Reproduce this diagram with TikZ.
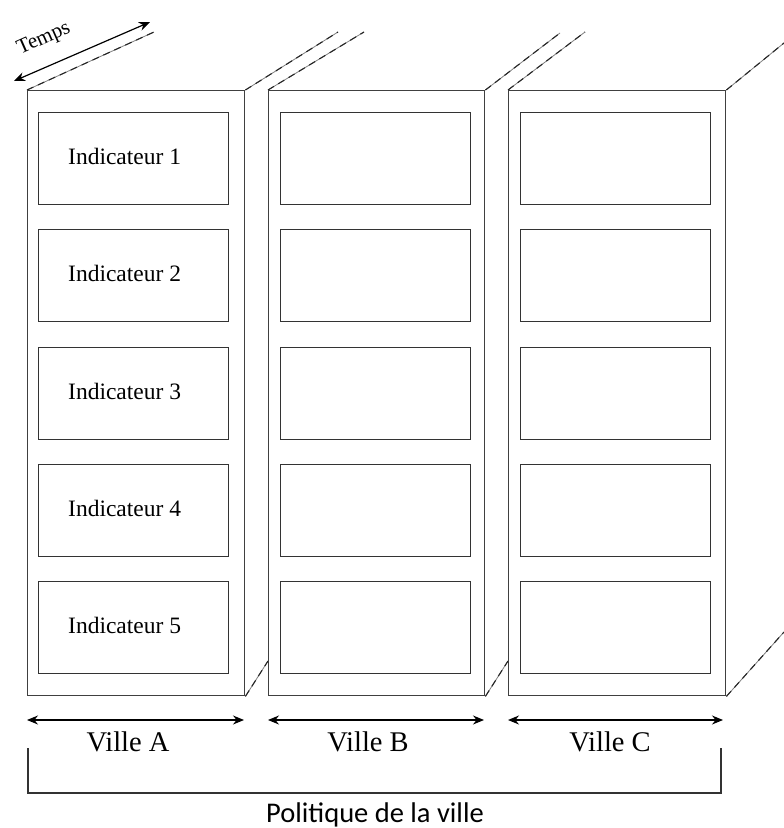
\documentclass[tikz,border=0pt]{standalone}
\usepackage{fontspec}
\setmainfont{Liberation Serif}
\newfontfamily\polfont{Carlito}
\usetikzlibrary{arrows.meta}
\begin{document}
\begin{tikzpicture}[x=1pt,y=-1pt,
  colbox/.style={draw=black!75, line width=1.4pt, inner sep=0pt, anchor=north west},
  indbox/.style={draw=black!80, line width=1.3pt, inner sep=0pt, anchor=north west},
  depthgray/.style={draw=black!50, line width=0.8pt},
  depthdash/.style={draw=black!85, line width=1.1pt, dash pattern=on 7pt off 5pt},
  dimarrow/.style={draw=black, line width=1.2pt, {Stealth[length=11pt,width=9pt]}-{Stealth[length=11pt,width=9pt]}},
  indlabel/.style={font=\fontsize{23.5}{26}\selectfont, anchor=west, inner sep=0pt},
  villelabel/.style={font=\fontsize{28.5}{32}\selectfont, anchor=base, inner sep=0pt},
  brackline/.style={draw=black!80, line width=1.2pt}
]
\useasboundingbox (0,0) rectangle (784,828);

% columns
\foreach \n/\xl/\xr in {A/27/244, B/268/484, C/508/725}{
  \node[colbox, minimum width={(\xr-\xl)*1pt}, minimum height=605pt] (col\n) at (\xl,90) {};
}
% indicator boxes
\foreach \n/\xl in {A/38, B/280, C/520}{
  \foreach \r/\yt in {1/112, 2/229, 3/347, 4/464, 5/581}{
    \node[indbox, minimum width=190pt, minimum height=92pt] (box\n\r) at (\xl,\yt) {};
  }
}
% labels in column A
\foreach \r in {1,...,5}{
  \node[indlabel] (lab\r) at ([xshift=30pt,yshift=2pt]boxA\r.west) {Indicateur \r};
}

% depth lines
\coordinate (tAl) at (154,32);
\coordinate (tAr) at (338,32);
\coordinate (tBl) at (364,32);
\coordinate (tBr) at (560,33);
\coordinate (tCl) at (585,32);
\coordinate (tCr) at (784,43);
\coordinate (bA) at (268,661);
\coordinate (bB) at (508,661);
\coordinate (bC) at (784,632);
\foreach \s in {depthgray, depthdash}{
  \draw[\s] (colA.north west) -- (tAl);
  \draw[\s] (colA.north east) -- (tAr);
  \draw[\s] (colB.north west) -- (tBl);
  \draw[\s] (colB.north east) -- (tBr);
  \draw[\s] (colC.north west) -- (tCl);
  \draw[\s] (colC.north east) -- (tCr);
  \draw[\s] (colA.south east) -- (bA);
  \draw[\s] (colB.south east) -- (bB);
  \draw[\s] (colC.south east) -- (bC);
}

% Temps arrow
\coordinate (tempsS) at (14,81);
\coordinate (tempsE) at (150,22);
\draw[dimarrow] (tempsS) -- (tempsE);
\node[font=\fontsize{21}{24}\selectfont, rotate=24, inner sep=0pt] (temps) at (44,39) {Temps};

% bottom arrows
\foreach \n/\xl/\xr/\xc in {A/27/244/128, B/268/484/368, C/508/723/610}{
  \coordinate (arl\n) at (\xl,720);
  \coordinate (arr\n) at (\xr,720);
  \draw[dimarrow] (arl\n) -- (arr\n);
  \node[villelabel] (ville\n) at (\xc,751) {Ville \n};
}

% bracket
\coordinate (brA) at (28,748);
\coordinate (brB) at (28,793);
\coordinate (brC) at (721,793);
\coordinate (brD) at (721,748);
\draw[brackline] (brA) -- (brB) -- (brC) -- (brD);
\node[font=\polfont\fontsize{28.5}{32}\selectfont, anchor=base, inner sep=0pt] (pol) at (375,822) {Politique de la ville};
\end{tikzpicture}
\end{document}
